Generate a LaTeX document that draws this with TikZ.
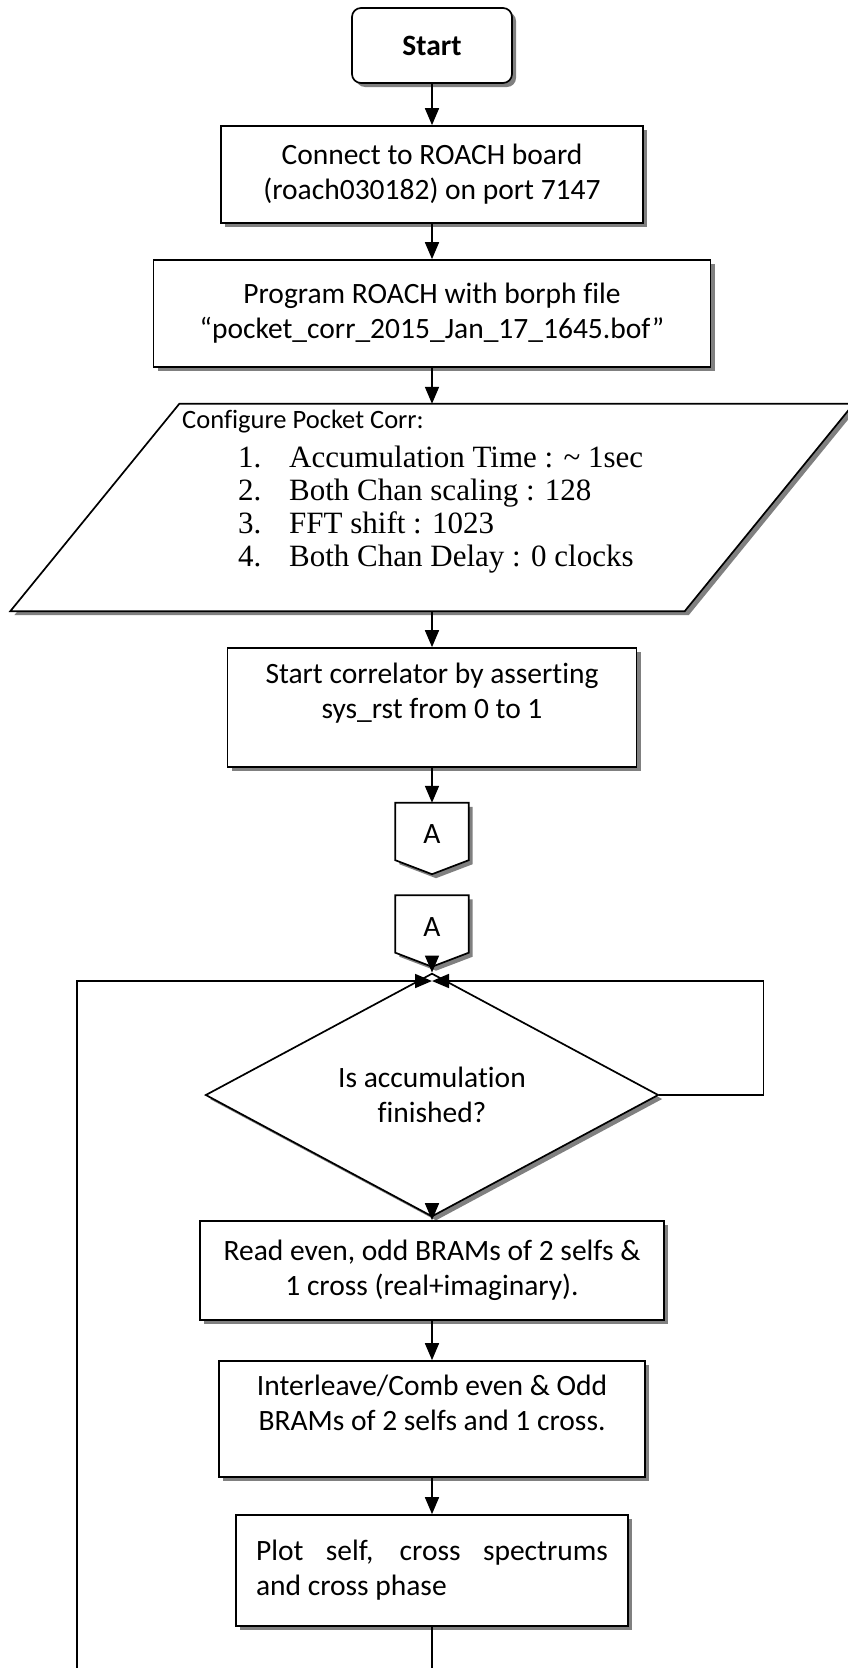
\documentclass[tikz,border=0pt]{standalone}
\usepackage{fontspec}
\setmainfont{Carlito}[Ligatures=NoCommon]
\newfontfamily\listfont{Liberation Serif}
\usetikzlibrary{arrows.meta, shapes.geometric, shadows}

\newcommand\boxfont{\fontsize{29.5}{35}\selectfont}
\newcommand\cfgfont{\fontsize{26.5}{32}\selectfont}
\newcommand\itemfont{\listfont\fontsize{31}{33}\selectfont}

\begin{document}
\begin{tikzpicture}[
  x=1pt, y=-1pt,
  font=\boxfont,
  boxshadow/.style={drop shadow={shadow xshift=4pt, shadow yshift=-4pt,
                    fill=black!50, opacity=1}},
  box/.style={rectangle, draw=black, line width=1.7pt, fill=white, boxshadow,
              align=center, inner sep=4pt},
  startbox/.style={box, rounded corners=9pt, font=\boxfont\bfseries},
  decbox/.style={diamond, draw=black, line width=1.7pt, fill=white, boxshadow,
                 align=center, inner sep=0pt},
  offbox/.style={rectangle, inner sep=0pt, minimum width=73, minimum height=71},
  shapeline/.style={draw=black, line width=1.7pt, fill=white, boxshadow},
  arr/.style={-{Triangle[length=17pt,width=14pt]}, line width=1.7pt},
  link/.style={line width=1.7pt},
]
\useasboundingbox (0,0) rectangle (847,1668);

%% ---- Set up nodes ----
\node[startbox, minimum width=160, minimum height=75] (start) at (432, 45.5)
  {Start};
\node[box, minimum width=422, minimum height=97] (connect) at (432, 174.5)
  {Connect to ROACH board\\(roach030182) on port 7147};
\node[box, minimum width=557, minimum height=107] (program) at (432, 313.5)
  {Program ROACH with borph file\\“pocket\_corr\_2015\_Jan\_17\_1645.bof”};

%% ---- Configure (parallelogram) ----
\node[rectangle, inner sep=0pt, minimum width=674, minimum height=207]
  (config) at (432, 507.5) {};
\draw[shapeline] ([xshift=84.5pt]config.north west) -- ([xshift=84.5pt]config.north east)
  -- ([xshift=-84.5pt]config.south east) -- ([xshift=-84.5pt]config.south west) -- cycle;
\node[anchor=west, inner sep=0pt, font=\cfgfont] (configlbl) at (182, 422)
  {Configure Pocket Corr:};
\node[anchor=north west, align=left, inner sep=0pt, font=\itemfont] (configlist)
  at (238, 446)
  {\makebox[51pt][l]{1.}Accumulation Time : \textasciitilde{} 1sec\\
   \makebox[51pt][l]{2.}Both Chan scaling : 128\\
   \makebox[51pt][l]{3.}FFT shift : 1023\\
   \makebox[51pt][l]{4.}Both Chan Delay : 0 clocks};

\node[box, minimum width=409, minimum height=119] (startcorr) at (432, 707.5)
  {Start correlator by asserting\\sys\_rst from 0 to 1\\[-12pt]\strut};

%% ---- Off-page connectors ----
\node[offbox] (offa) at (432, 838.5) {};
\draw[shapeline] (offa.north west) -- (offa.north east) -- ([yshift=14pt]offa.south east)
  -- (offa.south) -- ([yshift=14pt]offa.south west) -- cycle;
\node at ([yshift=4pt]offa.center) {A};
\node[offbox] (offb) at (432, 931) {};
\draw[shapeline] (offb.north west) -- (offb.north east) -- ([yshift=14pt]offb.south east)
  -- (offb.south) -- ([yshift=14pt]offb.south west) -- cycle;
\node at ([yshift=4pt]offb.center) {A};

%% ---- Loop ----
\coordinate (join) at (432, 981);
\coordinate (loopbot) at (77, 1668);
\node[decbox, minimum width=453, minimum height=174] (dec) at (432, 1095)
  {Is accumulation\\finished?};
\node[box, minimum width=464, minimum height=99] (read) at (432, 1270.5)
  {Read even, odd BRAMs of 2 selfs \&\\1 cross (real+imaginary).};
\node[box, minimum width=426, minimum height=116] (inter) at (432, 1419)
  {Interleave/Comb even \& Odd\\BRAMs of 2 selfs and 1 cross.\\[-12pt]\strut};
\node[box, minimum width=392, minimum height=111, text width=352, align=justify]
  (plot) at (432, 1570.5)
  {Plot self, cross spectrums\linebreak and cross phase};

%% ---- Arrows ----
\draw[arr] (start) -- (connect);
\draw[arr] (connect) -- (program);
\draw[arr] (program) -- (config);
\draw[arr] (config) -- (startcorr);
\draw[arr] (startcorr) -- (offa);
\draw[arr] (offb.south) -- (dec.north);
\draw[arr] (loopbot) |- (join);
\draw[arr] (dec.east) -- ++(104,0) |- (join);
\draw[arr] (dec) -- (read);
\draw[arr] (read) -- (inter);
\draw[arr] (inter) -- (plot);
\draw[link] (plot.south) -- (plot.south |- loopbot);

\end{tikzpicture}
\end{document}
